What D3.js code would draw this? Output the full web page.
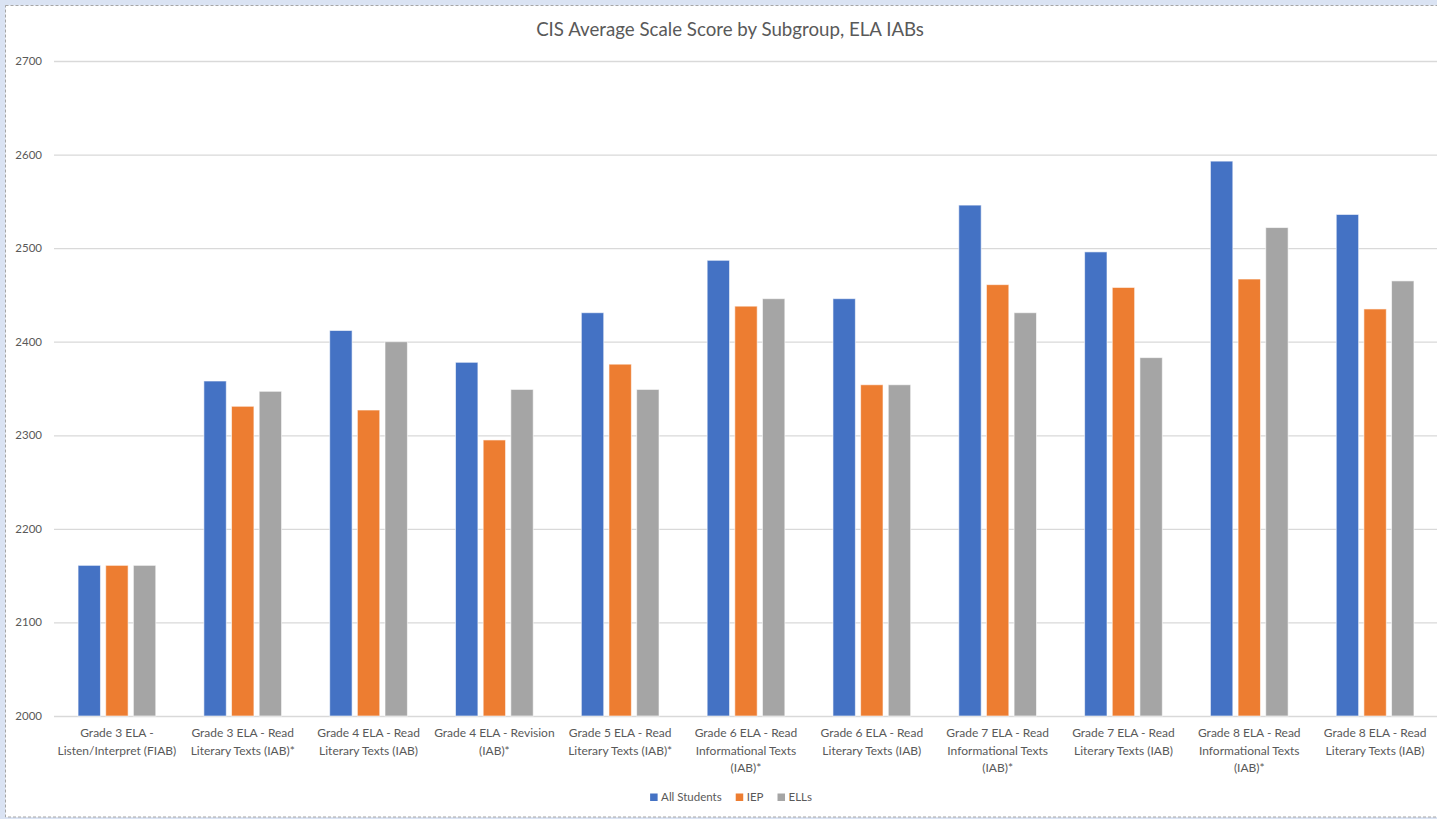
<!DOCTYPE html>
<html lang="en">
<head>
    <meta charset="UTF-8">
    <title>CIS Average Scale Score by Subgroup, ELA IABs</title>
    <script src="https://d3js.org/d3.v7.min.js"></script>
    <style>
        body {
            margin: 0;
            background-color: #dae3f3;
            font-family: Lato, 'Open Sans', sans-serif;
        }
        .frame {
            fill: #ffffff;
            stroke: #a6a6a6;
            stroke-width: 1px;
            stroke-dasharray: 3 2;
        }
        .grid line {
            stroke: #d9d9d9;
            stroke-width: 1.3px;
        }
        .grid path { display: none; }
        .tick-label {
            fill: #595959;
            font-size: 12px;
        }
        .bar {
            stroke: #ffffff;
            stroke-opacity: 0.6;
            stroke-width: 1px;
        }
    </style>
</head>
<body>
    <div id="chart"></div>

    <script>
        // chart data
        const chartTitle = "CIS Average Scale Score by Subgroup, ELA IABs";
        const categories = [
            "Grade 3 ELA - Listen/Interpret (FIAB)",
            "Grade 3 ELA - Read Literary Texts (IAB)*",
            "Grade 4 ELA - Read Literary Texts (IAB)",
            "Grade 4 ELA - Revision (IAB)*",
            "Grade 5 ELA - Read Literary Texts (IAB)*",
            "Grade 6 ELA - Read Informational Texts (IAB)*",
            "Grade 6 ELA - Read Literary Texts (IAB)",
            "Grade 7 ELA - Read Informational Texts (IAB)*",
            "Grade 7 ELA - Read Literary Texts (IAB)",
            "Grade 8 ELA - Read Informational Texts (IAB)*",
            "Grade 8 ELA - Read Literary Texts (IAB)"
        ];
        // wrapped tick labels, as shown under the axis
        const categoryLines = [
            ["Grade 3 ELA -", "Listen/Interpret (FIAB)"],
            ["Grade 3 ELA - Read", "Literary Texts (IAB)*"],
            ["Grade 4 ELA - Read", "Literary Texts (IAB)"],
            ["Grade 4 ELA - Revision", "(IAB)*"],
            ["Grade 5 ELA - Read", "Literary Texts (IAB)*"],
            ["Grade 6 ELA - Read", "Informational Texts", "(IAB)*"],
            ["Grade 6 ELA - Read", "Literary Texts (IAB)"],
            ["Grade 7 ELA - Read", "Informational Texts", "(IAB)*"],
            ["Grade 7 ELA - Read", "Literary Texts (IAB)"],
            ["Grade 8 ELA - Read", "Informational Texts", "(IAB)*"],
            ["Grade 8 ELA - Read", "Literary Texts (IAB)"]
        ];
        const seriesNames = ["All Students", "IEP", "ELLs"];
        const allStudents = [2161, 2358, 2412, 2378, 2431, 2487, 2446, 2546, 2496, 2593, 2536];
        const iep         = [2161, 2331, 2327, 2295, 2376, 2438, 2354, 2461, 2458, 2467, 2435];
        const ells        = [2161, 2347, 2400, 2349, 2349, 2446, 2354, 2431, 2383, 2522, 2465];
        const yTicks = [2000, 2100, 2200, 2300, 2400, 2500, 2600, 2700];
        const colors = ["#4472c4", "#ed7d31", "#a5a5a5"];

        const W = 1437, H = 819;
        const plot = {left: 54, right: 1438, top: 61, bottom: 716};

        const svg = d3.select("#chart")
            .append("svg")
            .attr("width", W)
            .attr("height", H)
            .style("display", "block");

        // white chart area with dashed edge (right edge runs off the page)
        svg.append("rect")
            .attr("class", "frame")
            .attr("x", 5.5)
            .attr("y", 5.5)
            .attr("width", W + 10)
            .attr("height", 811.5);

        // scales
        const x0 = d3.scaleBand()
            .domain(categories)
            .range([plot.left, plot.right]);

        const x1 = d3.scaleBand()
            .domain(seriesNames)
            .range([0, x0.bandwidth()])
            .paddingInner(0.19)
            .paddingOuter(0.87);

        const y = d3.scaleLinear()
            .domain([2000, 2700])
            .range([plot.bottom, plot.top]);

        // gridlines
        svg.append("g")
            .attr("class", "grid")
            .attr("transform", "translate(" + plot.left + ",0)")
            .call(d3.axisLeft(y).tickValues(yTicks).tickSize(-(plot.right - plot.left)).tickFormat(""));

        // y labels
        svg.append("g")
            .selectAll("text")
            .data(yTicks)
            .join("text")
            .attr("class", "tick-label")
            .attr("x", 42)
            .attr("y", d => y(d) + 4)
            .attr("text-anchor", "end")
            .style("font-size", "11.5px")
            .text(d => d);

        // bars
        const rows = categories.map((c, i) => ({
            cat: c,
            values: [allStudents[i], iep[i], ells[i]]
        }));

        const groups = svg.append("g")
            .selectAll("g")
            .data(rows)
            .join("g")
            .attr("transform", d => "translate(" + x0(d.cat) + ",0)");

        groups.selectAll("rect")
            .data(d => d.values.map((v, k) => ({name: seriesNames[k], value: v, k: k})))
            .join("rect")
            .attr("class", "bar")
            .attr("x", d => x1(d.name))
            .attr("y", d => y(d.value))
            .attr("width", x1.bandwidth())
            .attr("height", d => y(2000) - y(d.value))
            .attr("fill", d => colors[d.k]);

        // x labels
        const xl = svg.append("g")
            .selectAll("text")
            .data(categories)
            .join("text")
            .attr("class", "tick-label")
            .attr("text-anchor", "middle")
            .attr("x", d => x0(d) + x0.bandwidth() / 2)
            .attr("y", 737);

        xl.each(function(d, i) {
            const t = d3.select(this);
            categoryLines[i].forEach((line, j) => {
                t.append("tspan")
                    .attr("x", x0(d) + x0.bandwidth() / 2)
                    .attr("dy", j === 0 ? 0 : 17.5)
                    .text(line);
            });
        });

        // title
        svg.append("text")
            .attr("x", 730)
            .attr("y", 36)
            .attr("text-anchor", "middle")
            .style("fill", "#595959")
            .style("font-size", "18.7px")
            .text(chartTitle);

        // legend
        const legend = svg.append("g");
        let lx = 0;
        seriesNames.forEach((name, k) => {
            const item = legend.append("g").attr("transform", "translate(" + lx + ",0)");
            item.append("rect")
                .attr("x", 0)
                .attr("y", -7.5)
                .attr("width", 7.5)
                .attr("height", 7.5)
                .attr("fill", colors[k]);
            const txt = item.append("text")
                .attr("class", "tick-label")
                .attr("x", 11)
                .attr("y", 0)
                .style("font-size", "11.5px")
                .text(name);
            lx += 11 + txt.node().getComputedTextLength() + 14;
        });
        const legendWidth = lx - 14;
        legend.attr("transform", "translate(" + (731 - legendWidth / 2) + ",801)");
    </script>
</body>
</html>
